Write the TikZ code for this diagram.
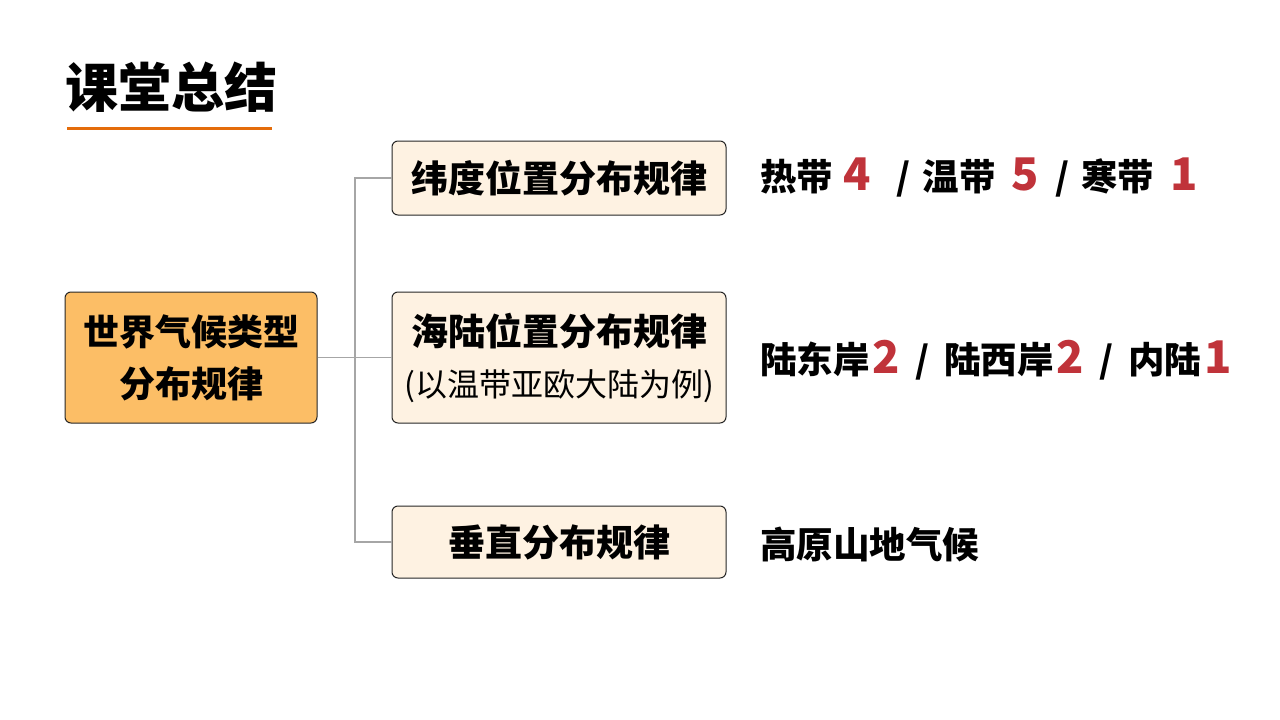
\documentclass[tikz,border=0pt]{standalone}
\usepackage{fontspec}
\setmainfont{Noto Sans CJK SC}
\definecolor{cream}{HTML}{FEF2E2}
\definecolor{rootfill}{HTML}{FCBE66}
\definecolor{accent}{HTML}{E46C0A}
\definecolor{numred}{HTML}{C0333A}
\definecolor{connc}{HTML}{A6A6A6}
\newcommand{\fs}[1]{\fontsize{#1}{#1}\selectfont}
\newcommand{\num}[1]{{\fs{45}\color{numred}#1}}
\begin{document}
\begin{tikzpicture}[x=1pt,y=-1pt,
  box/.style={draw=black!85, line width=1, rounded corners=6, align=center, inner sep=0, text=black},
  leaf/.style={box, fill=cream, minimum width=334, font=\fs{37}\bfseries},
  conn/.style={draw=connc, line width=1.2},
  rtext/.style={anchor=west, inner sep=0, font=\fs{36.5}\bfseries}]
\fill[white] (0,0) rectangle (1280,720);
\useasboundingbox (0,0) rectangle (1280,720);
% title
\node[anchor=west, inner sep=0, font=\fs{53}\bfseries] (title) at (65,87) {课堂总结};
\coordinate (ul1) at (67,128);
\coordinate (ul2) at (272,128);
\draw[accent, line width=3] (ul1) -- (ul2);
% boxes
\node[box, fill=rootfill, minimum width=252, minimum height=131, font=\fs{36}\bfseries] (root) at (191,357.5)
  {世界气候类型\\[16pt]分布规律};
\node[leaf, minimum height=74] (b1) at (559,178) {纬度位置分布规律};
\node[leaf, minimum height=131] (b2) at (559,357.5)
  {海陆位置分布规律\\[14pt]{\fs{32}\mdseries (以温带亚欧大陆为例)}};
\node[leaf, minimum height=72] (b3) at (559,542) {垂直分布规律};
% connectors
\coordinate (t1) at (355,178);
\coordinate (t3) at (355,542);
\draw[conn] (root.east) -- (b2.west);
\draw[conn] (b1.west) -- (t1) -- (t3) -- (b3.west);
% right texts
\node[rtext] (r1) at (760,178)
  {热带\hspace{10pt}\num{4}\hspace{26pt}/\hspace{12pt}温带\hspace{16pt}\num{5}\hspace{16pt}/\hspace{12pt}寒带\hspace{16pt}\num{1}};
\node[rtext] (r2) at (760,360)
  {陆东岸\hspace{3pt}\num{2}\hspace{15pt}/\hspace{15pt}陆西岸\hspace{3pt}\num{2}\hspace{15pt}/\hspace{15pt}内陆\hspace{3pt}\num{1}};
\node[rtext] (r3) at (760,544) {高原山地气候};
\end{tikzpicture}
\end{document}
